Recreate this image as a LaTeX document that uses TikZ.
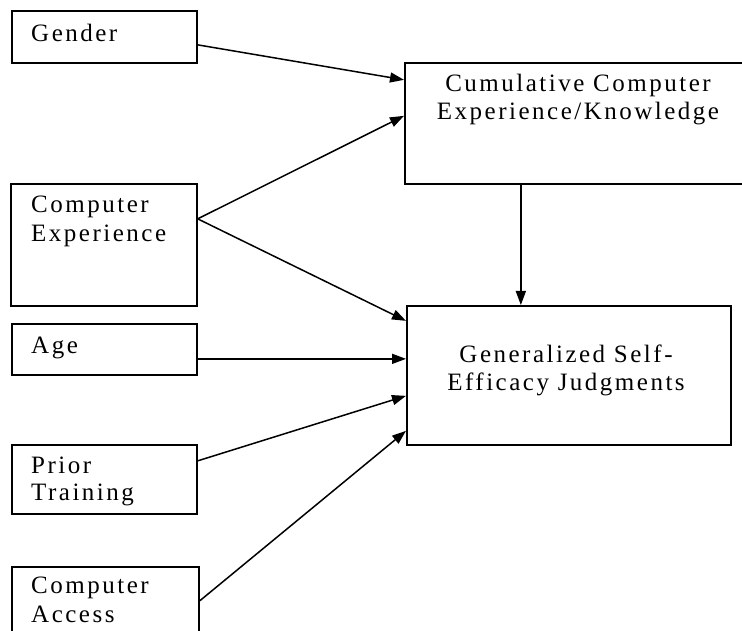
\documentclass[tikz,border=0pt]{standalone}
\usepackage{fontspec}
\setmainfont{Liberation Serif}
\newfontfamily\lblfont[LetterSpace=10]{Liberation Serif}
\usetikzlibrary{arrows.meta}
\begin{document}
\begin{tikzpicture}[x=1pt,y=-1pt,
  box/.style={draw,line width=1.7pt,rectangle,inner sep=0pt,anchor=north west},
  lbl/.style={anchor=base west,inner sep=0pt,align=left,font=\lblfont\fontsize{25}{29}\selectfont},
  clbl/.style={anchor=base,inner sep=0pt,align=center,font=\lblfont\fontsize{25}{28}\selectfont},
  arr/.style={line width=1.5pt,-{Triangle[length=14pt,width=10pt]}}]
\useasboundingbox (0,0) rectangle (742,631);
\clip (0,0) rectangle (742,631);
\fill[white] (0,0) rectangle (742,631);
% boxes
\node[box,minimum width=185pt,minimum height=52pt] (gender) at (11,10) {};
\node[box,minimum width=186pt,minimum height=122pt] (compexp) at (10,183) {};
\node[box,minimum width=185pt,minimum height=51pt] (age) at (11,323) {};
\node[box,minimum width=185pt,minimum height=69pt] (prior) at (11,444) {};
\node[box,minimum width=187pt,minimum height=90pt] (access) at (11,566) {};
\node[box,minimum width=360pt,minimum height=121pt] (cum) at (404,62) {};
\node[box,minimum width=324pt,minimum height=139pt] (gen) at (406,305) {};
% labels (base anchor = baseline of the last line)
\node[lbl] (tgender) at (31,42) {Gender};
\node[lbl] (tcompexp) at (31,242) {Computer\\Experience};
\node[lbl] (tage) at (31,353) {Age};
\node[lbl,font=\lblfont\fontsize{25}{27}\selectfont] (tprior) at (31,500) {Prior\\Training};
\node[lbl] (taccess) at (31,622) {Computer\\Access};
\node[clbl] (tcum) at (578,120) {Cumulative Computer\\Experience/Knowledge};
\node[clbl] (tgen) at (566,390) {Generalized Self-\\Efficacy Judgments};
% connectors
\draw[arr] ([yshift=-8pt]gender.east) -- ([yshift=43.5pt]cum.west);
\draw[arr] ([yshift=26pt]compexp.east) -- ([yshift=7.5pt]cum.west);
\draw[arr] ([yshift=26pt]compexp.east) -- ([yshift=54.5pt]gen.west);
\draw[arr] ([yshift=-9.5pt]age.east) -- ([yshift=16.5pt]gen.west);
\draw[arr] ([yshift=18.5pt]prior.east) -- ([yshift=-20.5pt]gen.west);
\draw[arr] ([yshift=11pt]access.east) -- ([yshift=-55.5pt]gen.west);
\draw[arr] ([xshift=-64pt]cum.south) -- ([xshift=-64pt]cum.south |- gen.north);
\end{tikzpicture}
\end{document}
